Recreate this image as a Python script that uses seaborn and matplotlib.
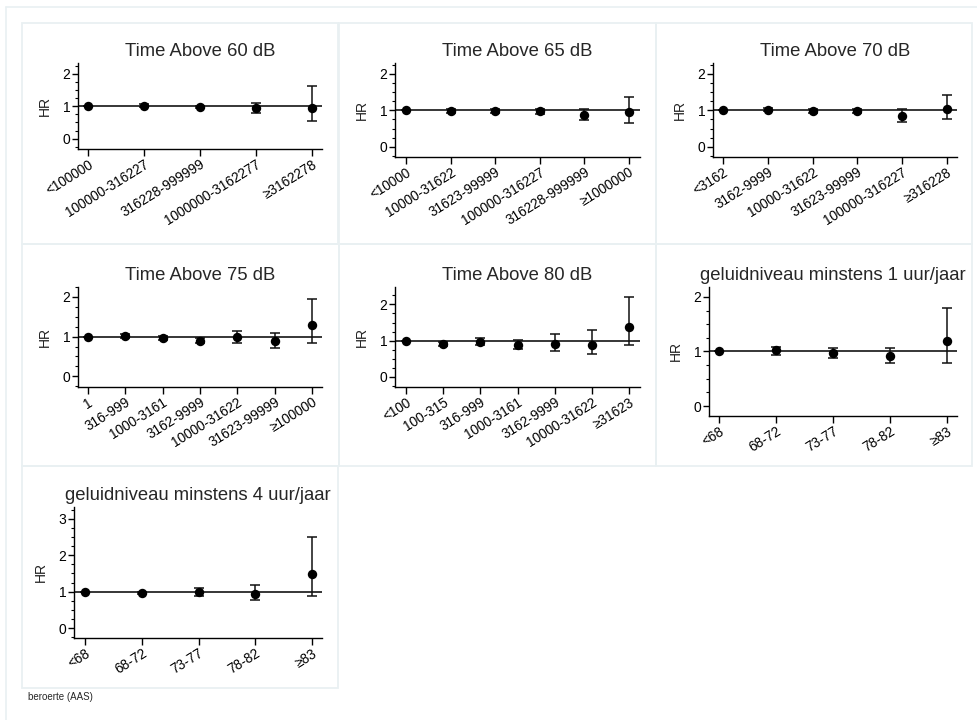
import numpy as np
import pandas as pd
import matplotlib
matplotlib.use("Agg")
import matplotlib.pyplot as plt
from matplotlib.ticker import MultipleLocator, AutoMinorLocator
from matplotlib.patches import Rectangle
from matplotlib.lines import Line2D
import seaborn as sns

# ---- data (HR with 95% CI) ----
titles = ["Time Above 60 dB", "Time Above 65 dB", "Time Above 70 dB",
          "Time Above 75 dB", "Time Above 80 dB",
          "geluidniveau minstens 1 uur/jaar", "geluidniveau minstens 4 uur/jaar"]

cats_60 = ["<100000", "100000-316227", "316228-999999", "1000000-3162277", "≥3162278"]
hr_60 = [1.00, 1.02, 0.98, 0.93, 0.93]
lo_60 = [1.00, 0.97, 0.94, 0.79, 0.55]
hi_60 = [1.00, 1.07, 1.02, 1.10, 1.62]

cats_65 = ["<10000", "10000-31622", "31623-99999", "100000-316227", "316228-999999", "≥1000000"]
hr_65 = [1.00, 0.97, 0.98, 0.97, 0.88, 0.95]
lo_65 = [1.00, 0.92, 0.92, 0.90, 0.74, 0.65]
hi_65 = [1.00, 1.03, 1.05, 1.04, 1.04, 1.38]

cats_70 = ["<3162", "3162-9999", "10000-31622", "31623-99999", "100000-316227", "≥316228"]
hr_70 = [1.00, 1.02, 0.97, 0.98, 0.85, 1.04]
lo_70 = [1.00, 0.97, 0.92, 0.92, 0.69, 0.76]
hi_70 = [1.00, 1.07, 1.03, 1.05, 1.04, 1.41]

cats_75 = ["1", "316-999", "1000-3161", "3162-9999", "10000-31622", "31623-99999", "≥100000"]
hr_75 = [1.00, 1.01, 0.96, 0.90, 0.99, 0.89, 1.28]
lo_75 = [1.00, 0.96, 0.91, 0.85, 0.84, 0.71, 0.85]
hi_75 = [1.00, 1.06, 1.01, 0.96, 1.13, 1.10, 1.95]

cats_80 = ["<100", "100-315", "316-999", "1000-3161", "3162-9999", "10000-31622", "≥31623"]
hr_80 = [1.00, 0.91, 0.97, 0.88, 0.92, 0.89, 1.37]
lo_80 = [1.00, 0.86, 0.87, 0.76, 0.72, 0.62, 0.87]
hi_80 = [1.00, 0.97, 1.07, 1.01, 1.19, 1.28, 2.20]

cats_1u = ["<68", "68-72", "73-77", "78-82", "≥83"]
hr_1u = [1.00, 1.02, 0.97, 0.91, 1.19]
lo_1u = [1.00, 0.94, 0.88, 0.79, 0.79]
hi_1u = [1.00, 1.09, 1.07, 1.07, 1.79]

cats_4u = ["<68", "68-72", "73-77", "78-82", "≥83"]
hr_4u = [1.00, 0.96, 1.00, 0.94, 1.48]
lo_4u = [1.00, 0.93, 0.87, 0.76, 0.88]
hi_4u = [1.00, 1.00, 1.09, 1.18, 2.51]

series = [(cats_60, hr_60, lo_60, hi_60), (cats_65, hr_65, lo_65, hi_65),
          (cats_70, hr_70, lo_70, hi_70), (cats_75, hr_75, lo_75, hi_75),
          (cats_80, hr_80, lo_80, hi_80), (cats_1u, hr_1u, lo_1u, hi_1u),
          (cats_4u, hr_4u, lo_4u, hi_4u)]

# ---- layout in pixels: axes (left, top, right, bottom), ylim ----
W, H = 977, 720
axes_px = [(78, 63, 322, 149), (395, 63, 640, 157), (713, 63, 957, 157),
           (78, 287, 322, 387), (395, 287, 640, 387), (709, 287, 957, 416),
           (74, 507, 322, 638)]
ylims = [(-0.32, 2.33), (-0.28, 2.3), (-0.28, 2.3), (-0.27, 2.25),
         (-0.28, 2.48), (-0.18, 2.18), (-0.27, 3.32)]
first_cat_px = [88, 406, 723, 88, 406, 719, 85]
last_cat_px = [312, 629, 947, 312, 629, 947, 312]
frames_px = [(22, 23, 338, 244), (339, 23, 656, 244), (656, 23, 972, 244),
             (22, 244, 339, 466), (339, 244, 656, 466), (656, 244, 972, 466),
             (22, 466, 338, 688)]

sns.set_style("ticks")
plt.rcParams["font.family"] = ["Liberation Sans", "DejaVu Sans"]

fig = plt.figure(figsize=(W / 100, H / 100), dpi=100)

# panel frames
border = "#e9f0f2"
fig.add_artist(Line2D([6 / W, 1], [1 - 7 / H, 1 - 7 / H], color=border, lw=1.2, transform=fig.transFigure))
fig.add_artist(Line2D([6 / W, 6 / W], [1 - 7 / H, 0], color=border, lw=1.2, transform=fig.transFigure))
for (x0, y0, x1, y1) in frames_px:
    fig.add_artist(Rectangle((x0 / W, 1 - y1 / H), (x1 - x0) / W, (y1 - y0) / H,
                             transform=fig.transFigure, fill=False, ec=border, lw=1.3))

for i, (cats, hr, lo, hi) in enumerate(series):
    l, t, r, b = axes_px[i]
    ax = fig.add_axes([l / W, 1 - b / H, (r - l) / W, (b - t) / H])
    df = pd.DataFrame({"cat": cats, "hr": hr, "lo": lo, "hi": hi})
    n = len(cats)

    ax.axhline(1, color="black", lw=1.1, zorder=1)
    ax.errorbar(df["cat"], df["hr"],
                yerr=[df["hr"] - df["lo"], df["hi"] - df["hr"]],
                fmt="none", ecolor="#111111", elinewidth=1.1, capsize=3.6, capthick=1.1, zorder=2)
    sns.scatterplot(data=df, x="cat", y="hr", ax=ax, color="black", s=46,
                    edgecolor="black", linewidth=0, zorder=3, legend=False)

    # x padding taken from pixel positions of first/last category
    spacing = (last_cat_px[i] - first_cat_px[i]) / (n - 1)
    ax.set_xlim(-(first_cat_px[i] - l) / spacing, (n - 1) + (r - last_cat_px[i]) / spacing)
    ax.set_ylim(*ylims[i])
    ax.yaxis.set_major_locator(MultipleLocator(1))
    ax.yaxis.set_minor_locator(AutoMinorLocator(4))

    for s in ["top", "right"]:
        ax.spines[s].set_visible(False)
    for s in ["left", "bottom"]:
        ax.spines[s].set_color("black")
        ax.spines[s].set_linewidth(1.0)

    ax.tick_params(axis="y", which="major", length=4, width=1.0, labelsize=10, pad=1.5, colors="black")
    ax.tick_params(axis="y", which="minor", length=2.5, width=0.8, colors="black")
    ax.tick_params(axis="x", which="major", length=5, width=1.0, labelsize=9.8, pad=1, colors="black")
    ax.set_xticks(range(n))
    ax.set_xticklabels(cats, rotation=32, ha="right", rotation_mode="anchor")

    ax.set_xlabel("")
    ax.set_ylabel("HR", fontsize=10, color="#222222")
    ax.yaxis.set_label_coords(-26 / (r - l), 0.5)
    ax.set_title(titles[i], fontsize=13.3, pad=5)

fig.text(28 / W, 1 - 697 / H, "beroerte (AAS)", fontsize=7, va="center", ha="left")

fig.savefig("out.png", dpi=100)
